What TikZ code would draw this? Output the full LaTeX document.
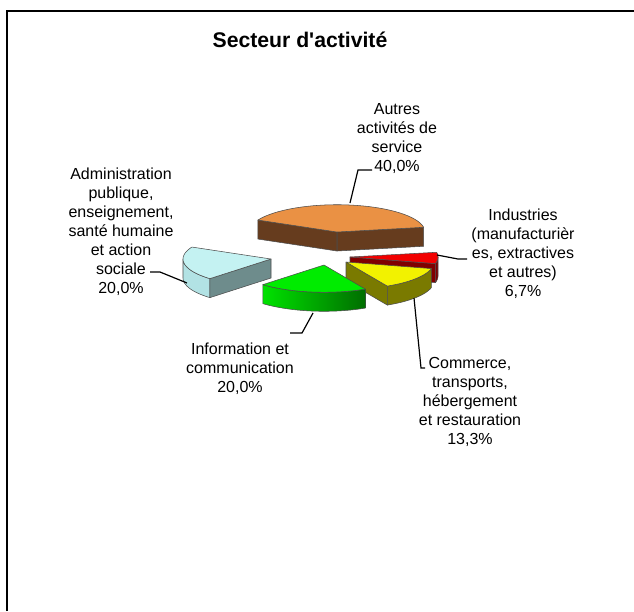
\documentclass[tikz,border=0pt]{standalone}
\usepackage{fontspec}
\setmainfont{Liberation Sans}[Ligatures=TeXOff]
\begin{document}
\begin{tikzpicture}[x=0.75pt,y=-0.75pt,
  edge/.style={draw=black!70,line width=0.4pt,line join=round},
  leader/.style={draw=black,line width=0.9pt},
  lbl/.style={align=center,inner sep=0pt,font=\fontsize{12}{14.25}\selectfont},
  frameline/.style={line width=1.9pt}]
\def\R{88}\def\K{0.31}\def\H{19}
\newcommand{\topface}[5]{\path[edge,fill=#5] ({#1},{#2}) -- plot[domain=#3:#4,samples=40] ({#1+\R*cos(\x)},{#2-\R*\K*sin(\x)}) -- cycle;}
\newcommand{\outerside}[5]{\path[edge,#5] plot[domain=#3:#4,samples=40] ({#1+\R*cos(\x)},{#2-\R*\K*sin(\x)}) -- plot[domain=#4:#3,samples=40] ({#1+\R*cos(\x)},{#2+\H-\R*\K*sin(\x)}) -- cycle;}
\newcommand{\radialface}[4]{\path[edge,fill=#4] ({#1},{#2}) -- ({#1+\R*cos(#3)},{#2-\R*\K*sin(#3)}) -- ++(0,\H) -- ({#1},{#2+\H}) -- cycle;}
\definecolor{orangetop}{RGB}{234,145,68}
\definecolor{orangeside}{RGB}{102,60,30}
\definecolor{bluetop}{RGB}{196,242,242}
\definecolor{blueside}{RGB}{178,226,228}
\definecolor{blueradial}{RGB}{110,140,140}
\definecolor{greentop}{RGB}{0,236,0}
\definecolor{greenlight}{RGB}{0,226,0}
\definecolor{greendark}{RGB}{0,110,0}
\definecolor{yellowtop}{RGB}{242,242,0}
\definecolor{yellowside}{RGB}{122,122,0}
\definecolor{redtop}{RGB}{242,0,0}
\definecolor{redside}{RGB}{128,0,0}
\useasboundingbox (0,0) rectangle (634,611);
\fill[white] (0,0) rectangle (634,611);
\draw[frameline] (7,611) -- (7,11) -- (634,11);
% title
\node[anchor=base,inner sep=0pt,font=\fontsize{15.9}{19}\selectfont\bfseries] (title) at (300,47) {Secteur d'activité};
% orange slice (40%)
\radialface{337}{232}{10}{orangeside}
\radialface{337}{232}{154}{orangeside}
\topface{337}{232}{10}{154}{orangetop}
% red slice (6.7%)
\radialface{350}{257}{346}{redside}
\outerside{350}{257}{346}{360}{fill=redside}
\topface{350}{257}{346}{370}{redtop}
% light blue slice (20%)
\outerside{271}{259}{180}{226}{fill=blueside}
\radialface{271}{259}{226}{blueradial}
\topface{271}{259}{154}{226}{bluetop}
% yellow slice (13.3%)
\radialface{346}{262}{298}{yellowside}
\outerside{346}{262}{298}{346}{fill=yellowside}
\topface{346}{262}{298}{346}{yellowtop}
% green slice (20%)
\outerside{324}{265}{226}{298}{left color=greenlight,right color=greendark}
\topface{324}{265}{226}{298}{greentop}
% labels
\node[lbl] (autres) at (397,138.5) {Autres\\activités de\\service\\40,0\%};
\node[lbl] (indus) at (523,254) {Industries\\(manufacturièr\\es, extractives\\et autres)\\6,7\%};
\node[lbl] (comm) at (470,401.5) {Commerce,\\transports,\\hébergement\\et restauration\\13,3\%};
\node[lbl] (info) at (240,368.5) {Information et\\communication\\20,0\%};
\node[lbl] (admin) at (121,231.5) {Administration\\publique,\\enseignement,\\santé humaine\\et action\\sociale\\20,0\%};
% leader lines
\coordinate (oA) at (350,203);
\coordinate (rA) at (437,255);
\coordinate (yA) at (414,298);
\coordinate (gA) at (313,313);
\coordinate (bA) at (187,283);
\draw[leader] (oA) -- (358,170) -- (372,170);
\draw[leader] (rA) -- (458,259) -- (467,259);
\draw[leader] (yA) -- (421,368) -- (425,368);
\draw[leader] (gA) -- (302,333) -- (290,333);
\draw[leader] (bA) -- (160,272) -- (150,272);
\end{tikzpicture}
\end{document}
